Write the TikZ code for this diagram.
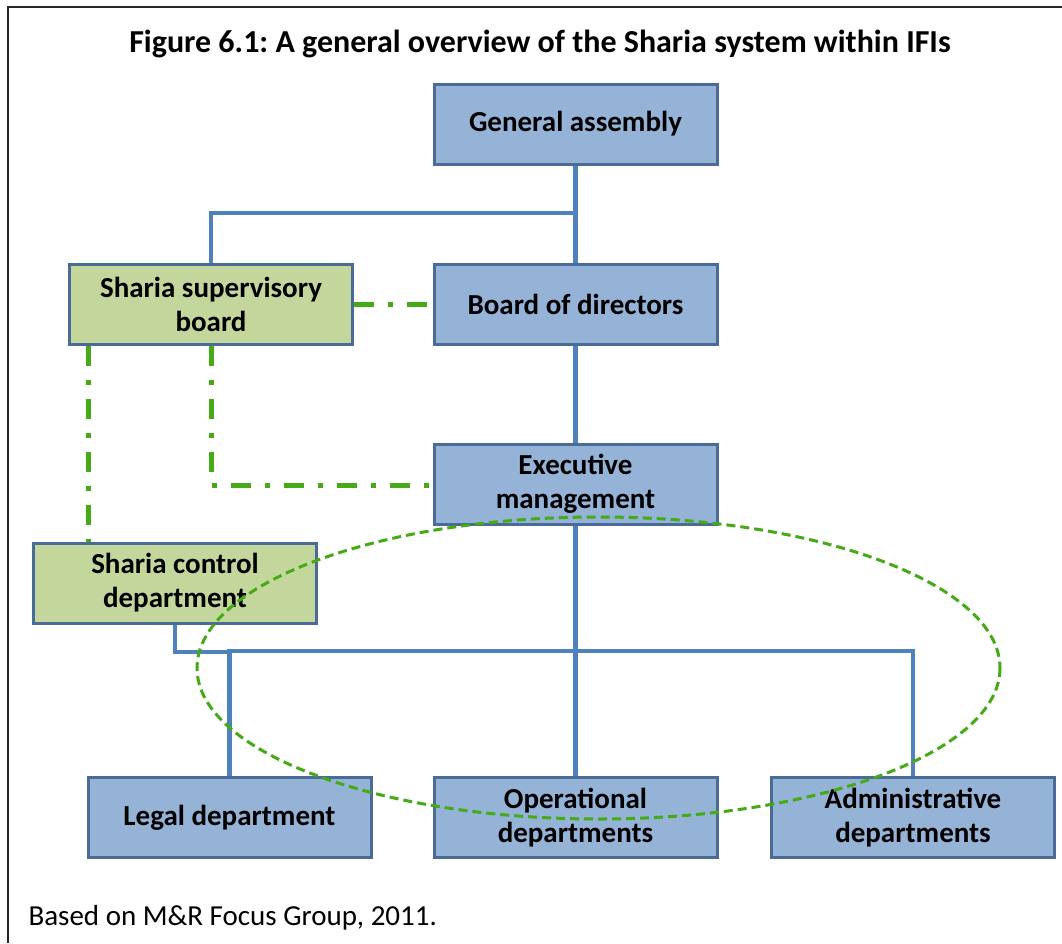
\documentclass[tikz,border=0pt]{standalone}
\usepackage{fontspec}
\setmainfont{Carlito}
\frenchspacing
\begin{document}
\begin{tikzpicture}[x=1pt,y=-1pt,
  box/.style={draw=boxedge, line width=3pt, fill=bluefill, minimum width=283pt, minimum height=80pt, inner sep=0pt, align=center, font=\fontsize{29}{34}\selectfont\bfseries},
  gbox/.style={box, fill=greenfill},
  conn/.style={draw=lineblue, line width=4.8pt},
  dashdot/.style={draw=dashgreen, line width=5pt, dash pattern=on 20pt off 14pt on 5pt off 14pt},
  oval/.style={draw=dashgreen, line width=3pt, dash pattern=on 9pt off 5pt}
]
\definecolor{bluefill}{HTML}{95B3D7}
\definecolor{greenfill}{HTML}{C3D69B}
\definecolor{boxedge}{HTML}{4A6A98}
\definecolor{lineblue}{HTML}{4F81BD}
\definecolor{dashgreen}{HTML}{44AA16}
\useasboundingbox (0,0) rectangle (1062,943);
\fill[white] (0,0) rectangle (1062,943);
\draw[line width=2.2pt, black!85] (8,943) -- (8,7) -- (1062,7);

\node[font=\fontsize{32}{38}\selectfont\bfseries] (title) at (540,44) {Figure 6.1: A general overview of the Sharia system within IFIs};

\node[box] (ga) at (575.5,124) {General assembly};
\node[box] (bod) at (575.5,304.5) {Board of directors};
\node[gbox] (ssb) at (211,304.5) {Sharia supervisory\\board};
\node[box] (em) at (575.5,484) {Executive\\management};
\node[gbox] (scd) at (175,583) {Sharia control\\department};
\node[box] (legal) at (229.5,817.5) {Legal department};
\node[box] (ops) at (575.5,817.5) {Operational\\departments};
\node[box] (adm) at (913,817.5) {Administrative\\departments};

\coordinate (j1) at (575.5,213);
\coordinate (j2) at (575.5,651);
\coordinate (j3) at (175,652);

\draw[conn] (ga.south) -- (bod.north);
\draw[conn] (j1) -| (ssb.north);
\draw[conn] (bod.south) -- (em.north);
\draw[conn] (em.south) -- (ops.north);
\draw[conn] (legal.north) |- (j2) -| (adm.north);
\draw[conn, line width=4pt] (scd.south) -- (j3) -- (legal.north |- j3);

\draw[dashdot] (ssb.east) -- (bod.west);
\draw[dashdot] (ssb.south) -- (211,485) -- (em.west |- 0,485);
\draw[dashdot] (88,345.5) -- (88,542);

\node[draw=none, minimum width=0pt] (ovc) at (598.5,668) {};
\draw[oval] (ovc) ellipse [x radius=401.5, y radius=151];

\node[anchor=west, font=\fontsize{29}{34}\selectfont] (src) at (25,918) {Based on M\&R Focus Group, 2011.};
\end{tikzpicture}
\end{document}
